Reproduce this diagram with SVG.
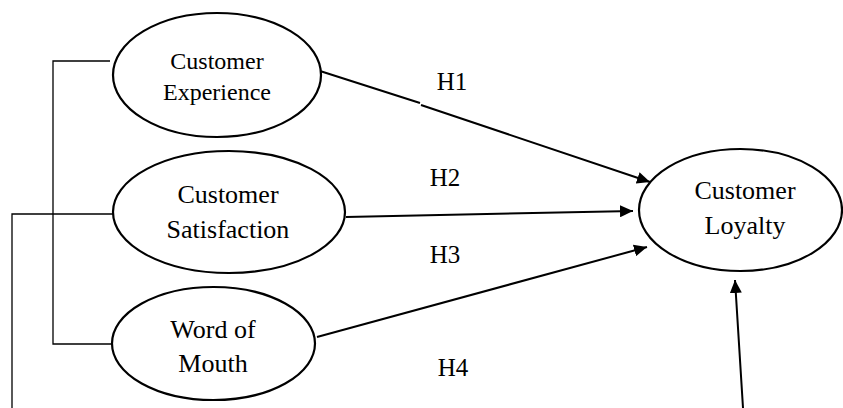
<svg xmlns="http://www.w3.org/2000/svg" width="843" height="408" viewBox="0 0 843 408">
<style>
.node ellipse{fill:#fff;stroke:#000;stroke-width:2.2}
text{font-family:"Liberation Serif","Times New Roman",serif;fill:#000;text-anchor:middle}
.t24{font-size:24px}
.t26{font-size:26px}
.arrow{fill:none;stroke:#000;stroke-width:2;marker-end:url(#ah)}
.thin{fill:none;stroke:#000;stroke-width:1.3}
</style>
<defs>
<marker id="ah" markerUnits="userSpaceOnUse" markerWidth="14" markerHeight="12" refX="13" refY="6" orient="auto">
<path d="M0,0 L13,6 L0,12 Z" fill="#000"/>
</marker>
</defs>
<rect width="843" height="408" fill="#fff"/>
<g id="connectors">
<polyline class="thin" points="110,61 53,61 53,344 113,344"/>
<polyline class="thin" points="113,214 12,214 12,408"/>
<path class="arrow" d="M320,71 L420,103 M421,105 L650,182"/>
<path class="arrow" d="M346,217 L633,211"/>
<path class="arrow" d="M317,337 L647,247"/>
<path class="arrow" d="M743,408 L735,280"/>
<text x="452" y="90" style="font-size:25px">H1</text>
<text x="445" y="186" style="font-size:25px">H2</text>
<text x="445" y="263" style="font-size:25px">H3</text>
<text x="453" y="376" style="font-size:25px">H4</text>
</g>
<g id="customer-experience" class="node">
<ellipse cx="217" cy="75" rx="104" ry="62"/>
<text class="t24" x="217" y="69">Customer</text>
<text class="t24" x="217" y="100">Experience</text>
</g>
<g id="customer-satisfaction" class="node">
<ellipse cx="229" cy="212" rx="116" ry="61"/>
<text class="t26" x="228" y="203">Customer</text>
<text class="t26" x="228" y="238">Satisfaction</text>
</g>
<g id="word-of-mouth" class="node">
<ellipse cx="213.5" cy="343.5" rx="101.5" ry="56.5"/>
<text class="t26" x="213" y="338">Word of</text>
<text class="t26" x="213" y="372">Mouth</text>
</g>
<g id="customer-loyalty" class="node">
<ellipse cx="740.5" cy="210" rx="101.5" ry="61"/>
<text class="t26" x="745" y="199">Customer</text>
<text class="t26" x="745" y="234">Loyalty</text>
</g>
</svg>
